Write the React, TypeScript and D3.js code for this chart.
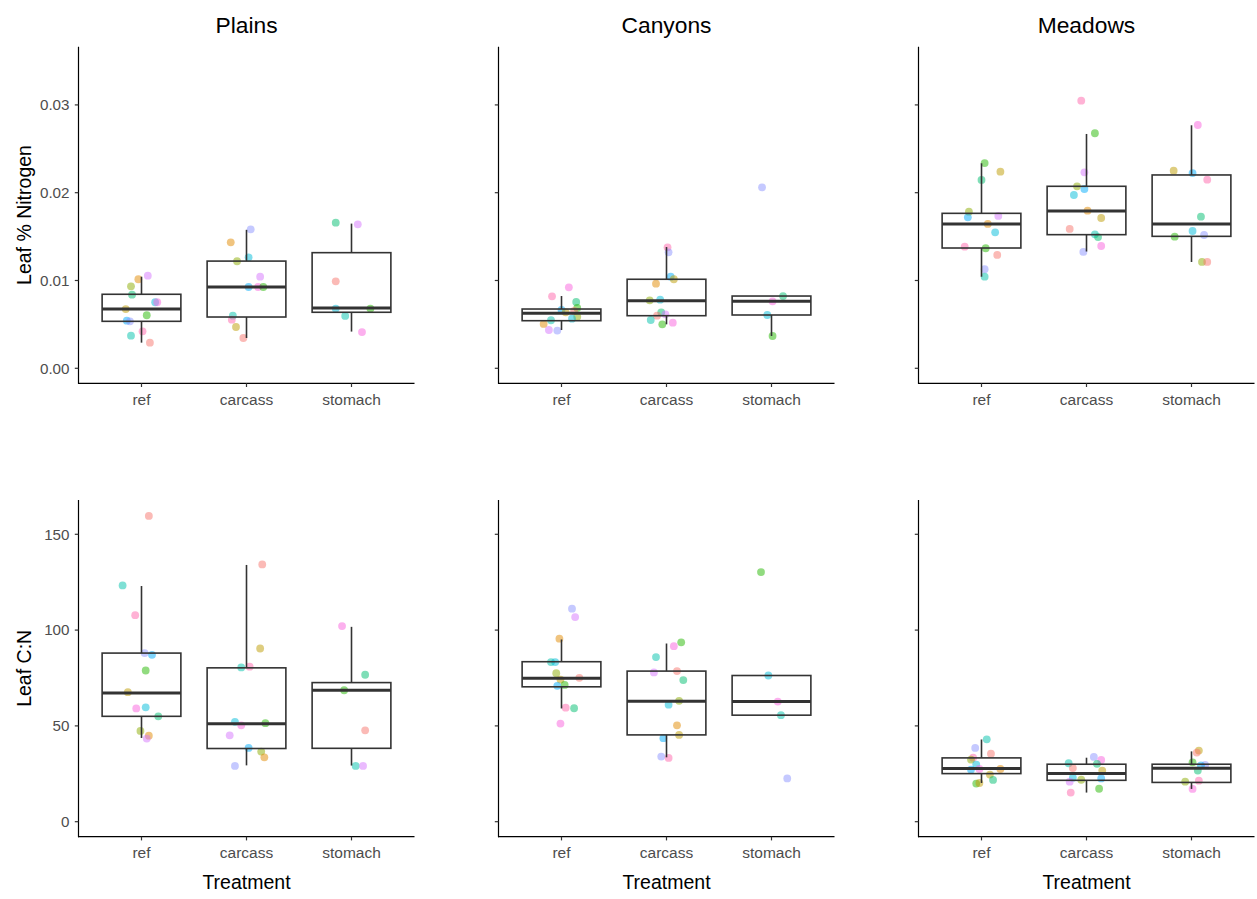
import React from "react";
import * as d3 from "d3";

// facet titles, treatment categories, colour levels
const regions = ["Plains", "Canyons", "Meadows"];
const treatments = ["ref", "carcass", "stomach"];
const hueColors = [
  "#F8766D", "#E18A00", "#BE9C00", "#8CAB00", "#24B700", "#00BE70", "#00C1AB",
  "#00BBDA", "#00ACFC", "#8B93FF", "#D575FE", "#F962DD", "#FF65AC",
];
const nitrogenTicks = [0, 0.01, 0.02, 0.03];
const cnTicks = [0, 50, 100, 150];

// points: [treatment index, colour index, value, jitter (category units)]
type Pt = [number, number, number, number];

const plainsN: Pt[] = [
  [0, 10, 0.01055, 0.06], [0, 1, 0.01014, -0.03], [0, 3, 0.00934, -0.1], [0, 5, 0.00838, -0.09],
  [0, 7, 0.00752, 0.13], [0, 11, 0.00752, 0.15], [0, 2, 0.00675, -0.15], [0, 4, 0.00604, 0.05],
  [0, 8, 0.00542, -0.14], [0, 9, 0.00535, -0.11], [0, 12, 0.00421, 0.01], [0, 6, 0.00371, -0.1],
  [0, 0, 0.00292, 0.08],
  [1, 9, 0.01583, 0.04], [1, 1, 0.01435, -0.15], [1, 7, 0.01264, 0.02], [1, 3, 0.01219, -0.09],
  [1, 10, 0.01043, 0.13], [1, 8, 0.00926, 0.02], [1, 11, 0.00926, 0.11], [1, 4, 0.00926, 0.16],
  [1, 6, 0.00599, -0.13], [1, 12, 0.00554, -0.14], [1, 2, 0.0047, -0.1], [1, 0, 0.00345, -0.03],
  [2, 5, 0.01659, -0.15], [2, 10, 0.0164, 0.06], [2, 0, 0.00991, -0.15], [2, 7, 0.0068, -0.15],
  [2, 4, 0.0068, 0.18], [2, 6, 0.00596, -0.06], [2, 11, 0.00413, 0.1],
];
const canyonsN: Pt[] = [
  [0, 11, 0.00922, 0.07], [0, 12, 0.0082, -0.09], [0, 5, 0.00755, 0.14], [0, 4, 0.00687, 0.15],
  [0, 8, 0.00664, 0.0], [0, 2, 0.00638, 0.04], [0, 0, 0.00653, 0.12], [0, 3, 0.00588, 0.15],
  [0, 7, 0.00565, 0.1], [0, 6, 0.00547, -0.1], [0, 1, 0.00505, -0.17], [0, 10, 0.00436, -0.12],
  [0, 9, 0.00429, -0.04],
  [1, 12, 0.01378, 0.01], [1, 9, 0.01321, 0.02], [1, 8, 0.01043, 0.04], [1, 2, 0.01014, 0.07],
  [1, 1, 0.00964, -0.1], [1, 3, 0.00774, -0.16], [1, 7, 0.00781, -0.06], [1, 5, 0.00638, -0.05],
  [1, 10, 0.00615, -0.01], [1, 0, 0.00599, -0.09], [1, 6, 0.0055, -0.15], [1, 4, 0.00501, -0.04],
  [1, 11, 0.00519, 0.06],
  [2, 9, 0.02061, -0.09], [2, 5, 0.00823, 0.11], [2, 11, 0.00763, 0.01], [2, 7, 0.00607, -0.04],
  [2, 4, 0.00368, 0.01],
];
const meadowsN: Pt[] = [
  [0, 4, 0.02338, 0.03], [0, 2, 0.02239, 0.18], [0, 5, 0.02145, 0.0], [0, 3, 0.01784, -0.12],
  [0, 8, 0.0172, -0.13], [0, 10, 0.01735, 0.16], [0, 1, 0.01644, 0.06], [0, 7, 0.01549, 0.13],
  [0, 12, 0.01385, -0.16], [0, 4, 0.01367, 0.04], [0, 0, 0.01291, 0.15], [0, 9, 0.01128, 0.03],
  [0, 6, 0.01043, 0.03],
  [1, 12, 0.03048, -0.05], [1, 4, 0.02677, 0.08], [1, 10, 0.02232, -0.02], [1, 3, 0.02073, -0.09],
  [1, 8, 0.02042, -0.02], [1, 7, 0.01974, -0.12], [1, 1, 0.01795, 0.01], [1, 2, 0.01712, 0.14],
  [1, 0, 0.01587, -0.16], [1, 6, 0.01526, 0.08], [1, 5, 0.01495, 0.11], [1, 11, 0.01393, 0.14],
  [1, 9, 0.01325, -0.03],
  [2, 11, 0.02771, 0.06], [2, 2, 0.02251, -0.17], [2, 8, 0.02224, 0.01], [2, 12, 0.02148, 0.15],
  [2, 5, 0.01727, 0.09], [2, 7, 0.01564, 0.01], [2, 4, 0.01499, -0.16], [2, 9, 0.01518, 0.12],
  [2, 3, 0.01211, 0.1], [2, 0, 0.01211, 0.15],
];
const plainsCN: Pt[] = [
  [0, 0, 159.6, 0.07], [0, 6, 123.3, -0.18], [0, 12, 107.8, -0.06], [0, 9, 88.0, 0.03],
  [0, 8, 87.1, 0.1], [0, 4, 78.9, 0.04], [0, 2, 67.6, -0.13], [0, 7, 59.7, 0.04],
  [0, 11, 59.1, -0.05], [0, 5, 55.0, 0.16], [0, 3, 47.4, -0.01], [0, 1, 44.9, 0.07],
  [0, 10, 43.4, 0.05],
  [1, 0, 134.3, 0.15], [1, 2, 90.4, 0.13], [1, 6, 80.5, -0.05], [1, 12, 80.9, 0.03],
  [1, 7, 52.1, -0.11], [1, 11, 50.3, -0.05], [1, 4, 51.4, 0.18], [1, 10, 45.1, -0.16],
  [1, 8, 38.5, 0.02], [1, 3, 36.6, 0.14], [1, 1, 33.6, 0.17], [1, 9, 29.1, -0.11],
  [2, 11, 102.1, -0.09], [2, 5, 76.7, 0.13], [2, 4, 68.6, -0.07], [2, 0, 47.7, 0.13],
  [2, 6, 29.1, 0.04], [2, 10, 29.1, 0.11],
];
const canyonsCN: Pt[] = [
  [0, 9, 111.2, 0.1], [0, 10, 106.8, 0.13], [0, 1, 95.5, -0.02], [0, 6, 83.3, -0.1],
  [0, 7, 83.3, -0.06], [0, 3, 77.5, -0.05], [0, 0, 75.1, 0.17], [0, 2, 74.2, -0.01],
  [0, 4, 71.4, 0.03], [0, 8, 70.9, -0.04], [0, 12, 59.5, 0.04], [0, 5, 59.2, 0.12],
  [0, 11, 51.2, -0.01],
  [1, 4, 93.6, 0.14], [1, 11, 91.6, 0.07], [1, 6, 85.9, -0.1], [1, 10, 77.9, -0.12],
  [1, 0, 78.6, 0.1], [1, 5, 73.9, 0.16], [1, 3, 63.1, 0.12], [1, 7, 61.1, 0.02],
  [1, 1, 50.3, 0.1], [1, 2, 45.3, 0.12], [1, 8, 43.6, -0.03], [1, 9, 34.0, -0.05],
  [1, 12, 33.3, 0.02],
  [2, 4, 130.3, -0.1], [2, 7, 76.3, -0.03], [2, 11, 62.7, 0.06], [2, 6, 55.6, 0.09],
  [2, 9, 22.6, 0.15],
];
const meadowsCN: Pt[] = [
  [0, 6, 43.0, 0.05], [0, 9, 38.5, -0.06], [0, 0, 35.5, 0.09], [0, 12, 33.4, -0.08],
  [0, 3, 32.4, -0.1], [0, 7, 29.8, -0.05], [0, 8, 27.2, -0.1], [0, 11, 27.5, -0.02],
  [0, 1, 27.5, 0.18], [0, 2, 24.6, 0.08], [0, 5, 21.8, 0.11], [0, 4, 19.9, -0.05],
  [0, 2, 20.2, -0.02],
  [1, 9, 33.8, 0.07], [1, 11, 32.2, 0.14], [1, 6, 30.5, -0.17], [1, 5, 30.2, 0.1],
  [1, 0, 28.0, -0.13], [1, 2, 26.7, 0.15], [1, 7, 23.0, -0.13], [1, 3, 21.9, -0.05],
  [1, 8, 22.6, 0.14], [1, 10, 20.9, -0.16], [1, 4, 17.2, 0.12], [1, 12, 15.2, -0.15],
  [2, 2, 37.1, 0.07], [2, 0, 36.1, 0.05], [2, 9, 29.6, 0.13], [2, 8, 29.4, 0.09],
  [2, 4, 31.0, 0.01], [2, 5, 26.7, 0.06], [2, 3, 20.9, -0.06], [2, 12, 21.4, 0.07],
  [2, 11, 17.1, 0.01],
];

// box stats per treatment: [lower whisker, q1, median, q3, upper whisker]
const plainsNBox = [
  [0.00292, 0.00535, 0.00675, 0.00843, 0.01043],
  [0.00345, 0.00584, 0.00926, 0.01221, 0.01577],
  [0.00418, 0.00638, 0.00688, 0.01317, 0.01648],
];
const canyonsNBox = [
  [0.00436, 0.00542, 0.00626, 0.00675, 0.00823],
  [0.00501, 0.00599, 0.0077, 0.01014, 0.01381],
  [0.00368, 0.00607, 0.00763, 0.00823, 0.00823],
];
const meadowsNBox = [
  [0.01043, 0.0137, 0.01644, 0.01765, 0.02335],
  [0.0133, 0.01522, 0.01792, 0.02073, 0.02669],
  [0.01211, 0.01503, 0.01644, 0.02202, 0.02768],
];
const plainsCNBox = [
  [43.7, 55.0, 67.2, 88.0, 123.0],
  [29.4, 38.2, 51.1, 80.3, 134.0],
  [29.3, 38.3, 68.6, 72.6, 101.7],
];
const canyonsCNBox = [
  [59.1, 70.4, 74.9, 83.5, 95.1],
  [33.6, 45.3, 62.9, 78.6, 93.0],
  [55.6, 55.6, 62.7, 76.3, 76.3],
];
const meadowsCNBox = [
  [20.2, 25.1, 27.7, 33.3, 42.9],
  [15.2, 21.6, 25.1, 30.0, 33.4],
  [17.1, 20.5, 27.9, 30.0, 36.7],
];

const FONT = "'Liberation Sans', Arial, Helvetica, sans-serif";
const W = 1257;
const H = 899;
const panelW = 336;
const lefts = [78.5, 498.5, 918.5];

const rows = [
  {
    top: 46.7, bottom: 383.3, domain: [-0.00171, 0.03663], ticks: nitrogenTicks,
    fmt: d3.format(".2f"), title: "Leaf % Nitrogen",
    pts: [plainsN, canyonsN, meadowsN], boxes: [plainsNBox, canyonsNBox, meadowsNBox],
  },
  {
    top: 500, bottom: 836.7, domain: [-7.83, 167.9], ticks: cnTicks,
    fmt: d3.format("d"), title: "Leaf C:N",
    pts: [plainsCN, canyonsCN, meadowsCN], boxes: [plainsCNBox, canyonsCNBox, meadowsCNBox],
  },
];

function Panel({ left, row, col, rowIdx }: any) {
  const x = d3.scaleLinear().domain([-0.6, 2.6]).range([left, left + panelW]);
  const y = d3.scaleLinear().domain(row.domain).range([row.bottom, row.top]);
  const pts: Pt[] = row.pts[col];
  const boxes: number[][] = row.boxes[col];
  const halfW = 0.375;
  const stroke = "#333333";
  return (
    <g>
      {pts.map((p, i) => (
        <circle key={i} cx={x(p[0] + p[3])} cy={y(p[2])} r={3.9}
          fill={hueColors[p[1]]} fillOpacity={0.5} />
      ))}
      {boxes.map((b, i) => (
        <g key={i}>
          <line x1={x(i)} x2={x(i)} y1={y(b[3])} y2={y(b[4])} stroke={stroke} strokeWidth={1.6} />
          <line x1={x(i)} x2={x(i)} y1={y(b[1])} y2={y(b[0])} stroke={stroke} strokeWidth={1.6} />
          <rect x={x(i - halfW)} y={y(b[3])} width={x(i + halfW) - x(i - halfW)}
            height={y(b[1]) - y(b[3])} fill="none" stroke={stroke} strokeWidth={1.6} />
          <line x1={x(i - halfW)} x2={x(i + halfW)} y1={y(b[2])} y2={y(b[2])}
            stroke={stroke} strokeWidth={3} />
        </g>
      ))}
      {/* axes */}
      <line x1={left} x2={left} y1={row.top} y2={row.bottom + 0.5} stroke="#000" strokeWidth={1.2} />
      <line x1={left - 0.5} x2={left + panelW} y1={row.bottom} y2={row.bottom} stroke="#000" strokeWidth={1.2} />
      {row.ticks.map((t: number) => (
        <g key={t}>
          <line x1={left - 3.7} x2={left} y1={y(t)} y2={y(t)} stroke="#333" strokeWidth={1.2} />
          {col === 0 && (
            <text x={left - 9} y={y(t)} dy="0.35em" textAnchor="end" fontSize={15.2}
              fill="#4D4D4D" fontFamily={FONT}>{row.fmt(t)}</text>
          )}
        </g>
      ))}
      {treatments.map((t, i) => (
        <g key={t}>
          <line x1={x(i)} x2={x(i)} y1={row.bottom} y2={row.bottom + 3.7} stroke="#333" strokeWidth={1.2} />
          <text x={x(i)} y={row.bottom + 21.7} textAnchor="middle" fontSize={15.5}
            fill="#4D4D4D" fontFamily={FONT}>{t}</text>
        </g>
      ))}
      {rowIdx === 0 && (
        <text x={left + panelW / 2} y={32.5} textAnchor="middle" fontSize={22.8}
          fill="#000" fontFamily={FONT}>{regions[col]}</text>
      )}
      {rowIdx === 1 && (
        <text x={left + panelW / 2} y={889} textAnchor="middle" fontSize={19.5}
          fill="#000" fontFamily={FONT}>Treatment</text>
      )}
    </g>
  );
}

export default function App() {
  return (
    <svg width={W} height={H} style={{ position: "absolute", left: 0, top: 0, background: "#fff" }}>
      <rect width={W} height={H} fill="#fff" />
      {rows.map((row, r) => (
        <g key={r}>
          {lefts.map((l, c) => (
            <Panel key={c} left={l} row={row} col={c} rowIdx={r} />
          ))}
          <text transform={`translate(30.5,${(row.top + row.bottom) / 2}) rotate(-90)`}
            textAnchor="middle" fontSize={19.5} fill="#000" fontFamily={FONT}>{row.title}</text>
        </g>
      ))}
    </svg>
  );
}
